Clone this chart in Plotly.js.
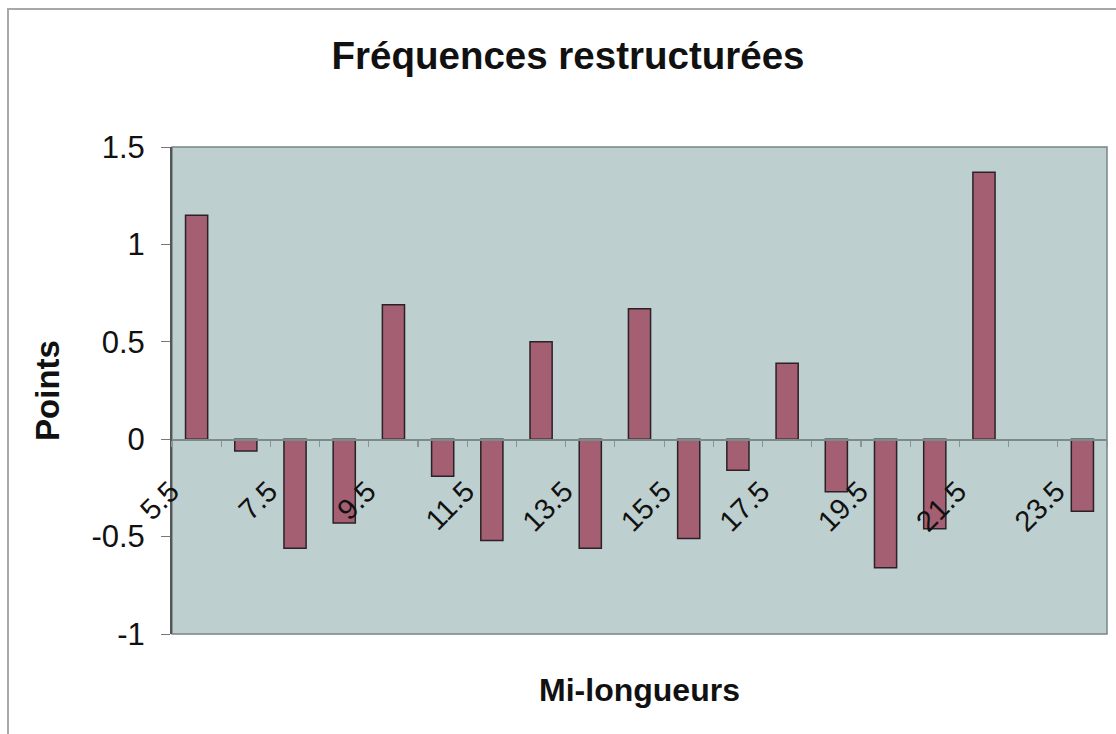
<!DOCTYPE html>
<html>
<head>
<meta charset="utf-8">
<script src="https://cdn.plot.ly/plotly-3.0.1.min.js"></script>
<style>
  html, body { margin: 0; padding: 0; background: #ffffff; overflow: hidden; }
  #chart { width: 1116px; height: 734px; position: absolute; left: 0; top: 0; }
  #frame { position: absolute; left: 7px; top: 8px; width: 1200px; height: 800px;
           border: 2px solid #a8a8a8; pointer-events: none; box-sizing: border-box; }
</style>
</head>
<body>
<div id="chart"></div>
<div id="frame"></div>
<script>
// Mid-lengths (categories)
const midLengths = [5.5, 6.5, 7.5, 8.5, 9.5, 10.5, 11.5, 12.5, 13.5, 14.5, 15.5, 16.5, 17.5, 18.5, 19.5, 20.5, 21.5, 22.5, 23.5];
// Restructured frequencies (points)
const points = [1.15, -0.06, -0.56, -0.43, 0.69, -0.19, -0.52, 0.50, -0.56, 0.67, -0.51, -0.16, 0.39, -0.27, -0.66, -0.46, 1.37, null, -0.37];
// Labelled ticks
const tickLabels = [5.5, 7.5, 9.5, 11.5, 13.5, 15.5, 17.5, 19.5, 21.5, 23.5];
const yTicks = [-1, -0.5, 0, 0.5, 1, 1.5];

const FONT = '"Liberation Sans", Arial, sans-serif';

const trace = {
  type: 'bar',
  x: midLengths,
  y: points,
  width: 0.45,
  marker: { color: '#a45f72', line: { color: '#2b2226', width: 1.5 } },
  hoverinfo: 'x+y'
};

const layout = {
  width: 1116,
  height: 734,
  margin: { l: 172, r: 9, t: 147, b: 100 },
  paper_bgcolor: '#ffffff',
  plot_bgcolor: '#bdcfcf',
  showlegend: false,
  font: { family: FONT, color: '#111111' },
  title: {
    text: '<b>Fréquences restructurées</b>',
    font: { family: FONT, size: 38.5, color: '#111111' },
    x: 568 / 1116, xref: 'container', xanchor: 'center',
    y: 1 - 56 / 734, yref: 'container', yanchor: 'middle'
  },
  xaxis: {
    type: 'linear',
    range: [5, 24],
    anchor: 'free',
    position: 0.4,
    tickmode: 'array',
    tickvals: tickLabels,
    ticktext: tickLabels.map(v => v.toFixed(1)),
    tickangle: -45,
    ticks: '',
    ticklabelstandoff: 22,
    ticklabelshift: -26,
    tickfont: { family: FONT, size: 29, color: '#111111' },
    showline: true,
    linecolor: '#7d8a8a',
    linewidth: 1.5,
    showgrid: false,
    zeroline: false,
    minor: { tickmode: 'linear', tick0: 5, dtick: 1, ticks: 'outside', ticklen: 6, tickcolor: '#8a9595', tickwidth: 1.2, showgrid: false },
    title: {
      text: '<b>Mi-longueurs</b>',
      font: { family: FONT, size: 32, color: '#111111' },
      standoff: 142
    },
    automargin: false
  },
  yaxis: {
    range: [-1, 1.5],
    tickmode: 'array',
    tickvals: yTicks,
    ticktext: yTicks.map(v => String(v)),
    ticks: 'outside',
    ticklen: 9,
    tickcolor: '#777777',
    ticklabelstandoff: 10,
    tickfont: { family: FONT, size: 31, color: '#111111' },
    showline: true,
    linecolor: '#555555',
    linewidth: 2,
    showgrid: false,
    zeroline: false,
    title: {
      text: '<b>Points</b>',
      font: { family: FONT, size: 33, color: '#111111' },
      standoff: 22
    },
    automargin: false
  },
  shapes: [{
    type: 'rect', xref: 'paper', yref: 'paper', x0: 0, x1: 1, y0: 0, y1: 1,
    line: { color: '#7a8585', width: 1.5 }, layer: 'below'
  }]
};

Plotly.newPlot('chart', [trace], layout, { displayModeBar: false, staticPlot: true });
</script>
</body>
</html>
